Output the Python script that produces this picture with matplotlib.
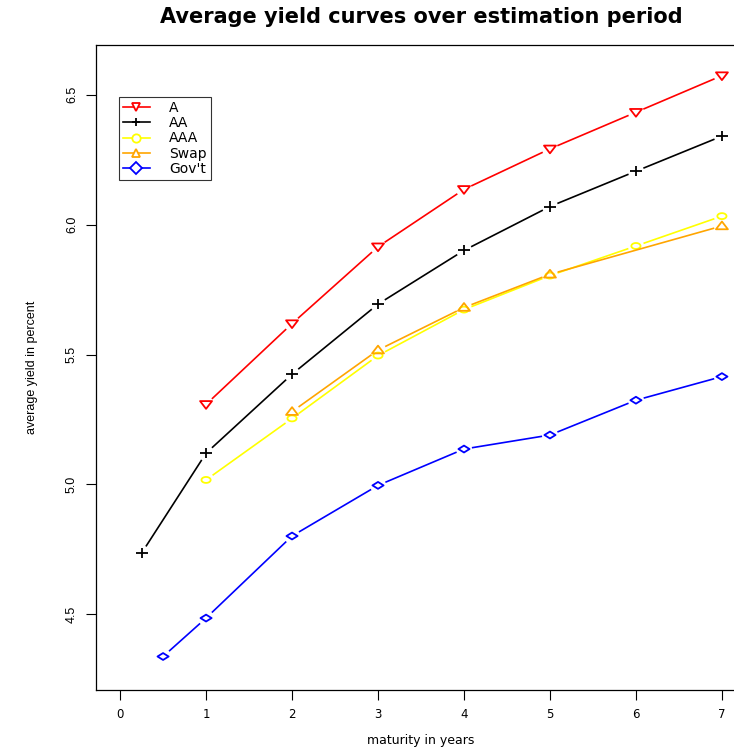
import numpy as np
import matplotlib
matplotlib.use("Agg")
from matplotlib import pyplot as plt
from matplotlib.lines import Line2D
from matplotlib.path import Path

plt.rcParams['font.family'] = ['Liberation Sans', 'DejaVu Sans']

# maturities (years) and average yields (percent)
x_a = [1, 2, 3, 4, 5, 6, 7]
y_a = [5.308, 5.619, 5.915, 6.136, 6.292, 6.433, 6.574]

x_aa = [0.25, 1, 2, 3, 4, 5, 6, 7]
y_aa = [4.735, 5.120, 5.424, 5.694, 5.901, 6.070, 6.206, 6.341]

x_aaa = [1, 2, 3, 4, 5, 6, 7]
y_aaa = [5.017, 5.254, 5.496, 5.673, 5.804, 5.918, 6.033]

x_swap = [2, 3, 4, 5, 7]
y_swap = [5.280, 5.517, 5.681, 5.809, 5.995]

x_gov = [0.5, 1, 2, 3, 4, 5, 6, 7]
y_gov = [4.337, 4.485, 4.801, 4.996, 5.136, 5.190, 5.324, 5.415]

x_ticks = [0, 1, 2, 3, 4, 5, 6, 7]
y_ticks = [4.5, 5.0, 5.5, 6.0, 6.5]

names = ["A", "AA", "AAA", "Swap", "Gov't"]
colors = ["red", "black", "yellow", "orange", "blue"]
legend_markers = ["v", "+", "o", "^", "D"]

# the original was stretched sideways, so the symbols are wider than tall
M, L = Path.MOVETO, Path.LINETO
tri_down = Path([(-1, 0.55), (1, 0.55), (0, -0.75), (-1, 0.55)], closed=True)
tri_up = Path([(-1, -0.55), (1, -0.55), (0, 0.75), (-1, -0.55)], closed=True)
plus = Path([(-1, 0), (1, 0), (0, -0.85), (0, 0.85)], [M, L, M, L])
t = np.linspace(0, 2 * np.pi, 40)
ellipse = Path(np.column_stack([np.cos(t), 0.65 * np.sin(t)]), closed=True)
diamond = Path([(-1, 0), (0, 0.62), (1, 0), (0, -0.62), (-1, 0)], closed=True)
markers = [tri_down, plus, ellipse, tri_up, diamond]
msizes = [8.6, 8.6, 6.6, 8.6, 8.0]

series = [(x_a, y_a), (x_aa, y_aa), (x_aaa, y_aaa), (x_swap, y_swap), (x_gov, y_gov)]

fig = plt.figure(figsize=(7.34, 7.5), dpi=100)
# right edge of the plot region runs past the image edge (cropped like the original)
ax = fig.add_axes([96 / 734, 60 / 750, 650 / 734, 645 / 750])
ax.set_xlim(-0.28, 7.28)
ax.set_ylim(4.3 - 0.092, 6.6 + 0.092)

gap = 8  # pixels of gap between line and marker (R type="b")


def gapped_line(xs, ys, color):
    pts = ax.transData.transform(np.column_stack([xs, ys]))
    inv = ax.transData.inverted()
    for p0, p1 in zip(pts[:-1], pts[1:]):
        d = p1 - p0
        n = np.hypot(*d)
        if n <= 2 * gap:
            continue
        u = d / n
        q = inv.transform(np.array([p0 + u * gap, p1 - u * gap]))
        ax.plot(q[:, 0], q[:, 1], color=color, lw=1.2, solid_capstyle='butt')


for (xs, ys), c, m, ms in zip(series, colors, markers, msizes):
    gapped_line(xs, ys, c)
    ax.scatter(xs, ys, marker=m, s=ms ** 2, facecolors='none', edgecolors=c, linewidths=1.3)

ax.set_xticks(x_ticks)
ax.set_yticks(y_ticks)
ax.tick_params(axis='both', direction='out', length=7, width=0.8, labelsize=9)
ax.tick_params(axis='x', pad=6)
ax.tick_params(axis='y', pad=6)
for lab in ax.get_xticklabels():
    lab.set_family('DejaVu Sans')
    lab.set_fontsize(8.5)
for lab in ax.get_yticklabels():
    lab.set_rotation(90)
    lab.set_va('center')
for sp in ax.spines.values():
    sp.set_linewidth(0.9)

ax.set_xlabel("maturity in years", fontsize=9, labelpad=9, family='DejaVu Sans')
ax.set_ylabel("average yield in percent", fontsize=9, labelpad=20)

fig.text(421 / 734, 1 - 17 / 750, "Average yield curves over estimation period",
         ha='center', va='center', fontsize=15, fontweight='bold', family='DejaVu Sans')

handles = [Line2D([], [], color=c, lw=1.2, marker=m, ms=6, mfc='white', mec=c, mew=1.3)
           for c, m in zip(colors, legend_markers)]
leg = ax.legend(handles, names, loc='upper left', bbox_to_anchor=(119 / 734, 1 - 97 / 750),
                bbox_transform=fig.transFigure, prop={'family': 'DejaVu Sans', 'size': 10},
                frameon=True, fancybox=False,
                handlelength=1.9, handletextpad=1.4, labelspacing=0.08, borderpad=0.3,
                borderaxespad=0)
leg.get_frame().set_edgecolor('black')
leg.get_frame().set_linewidth(0.8)

fig.savefig("out.png", dpi=100)
